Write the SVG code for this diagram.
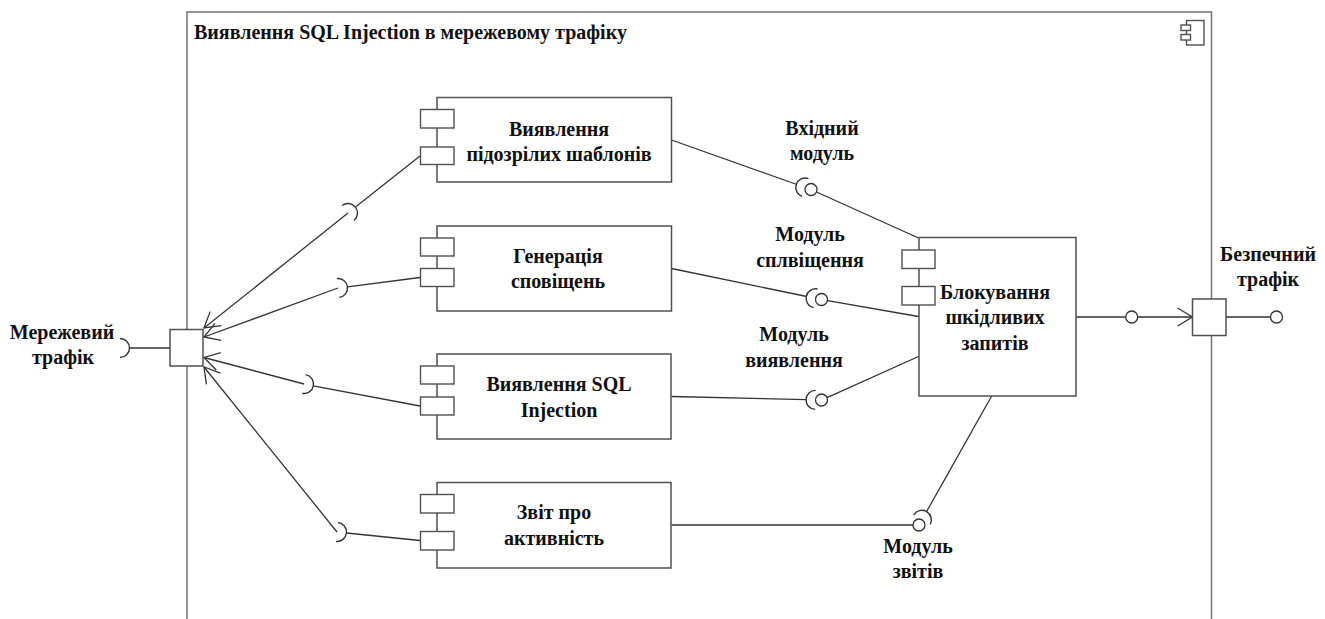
<svg xmlns="http://www.w3.org/2000/svg" width="1325" height="619" viewBox="0 0 1325 619">
  <style>
    .frame { fill: #ffffff; stroke: #7a7a7a; stroke-width: 1.6; }
    .box { fill: #ffffff; stroke: #505050; stroke-width: 1.5; }
    .tab { fill: #ffffff; stroke: #505050; stroke-width: 1.4; }
    .line { fill: none; stroke: #333333; stroke-width: 1.3; }
    .ball { fill: #ffffff; stroke: #333333; stroke-width: 1.3; }
    .lbl { font-family: "Liberation Serif", "Times New Roman", serif; font-weight: bold; font-size: 20px; fill: #111111; text-anchor: middle; }
    .title { font-family: "Liberation Serif", "Times New Roman", serif; font-weight: bold; font-size: 20px; fill: #111111; }
  </style>
  <defs>
    <marker id="open" markerUnits="userSpaceOnUse" markerWidth="20" markerHeight="20" viewBox="-16 -10 18 20" refX="0" refY="0" orient="auto">
      <path d="M-15,-9 L0,0 L-15,9" fill="none" stroke="#333333" stroke-width="1.3"/>
    </marker>
    <!-- half circle socket, bulging towards +x -->
    <path id="sock" d="M0,-9.5 A9.5,9.5 0 0 1 0,9.5" fill="none" stroke="#333333" stroke-width="1.4"/>
  </defs>
  <rect width="1325" height="619" fill="#ffffff"/>

  <!-- subsystem frame -->
  <g id="system">
    <rect class="frame" x="187" y="12" width="1024.5" height="640"/>
    <text class="title" x="194" y="39">Виявлення SQL Injection в мережевому трафіку</text>
    <g id="system-icon">
      <rect class="tab" x="1186.5" y="20.5" width="17.5" height="24.5" stroke-width="1.1"/>
      <rect class="tab" x="1181" y="25" width="9.5" height="5.5" stroke-width="1.1"/>
      <rect class="tab" x="1181" y="34.5" width="9.5" height="5.5" stroke-width="1.1"/>
    </g>
  </g>

  <!-- connectors -->
  <g id="connectors">
    <!-- inbound port socket -->
    <line class="line" x1="129" y1="348" x2="170" y2="348"/>
    <use href="#sock" transform="translate(120,348)"/>

    <!-- component required interfaces and dependencies to the port -->
    <line class="line" x1="420" y1="156" x2="355.8" y2="206.8"/>
    <use href="#sock" transform="translate(348,213) rotate(-38.4)"/>
    <line class="line" x1="348" y1="213" x2="204" y2="328" marker-end="url(#open)"/>

    <line class="line" x1="420" y1="277.5" x2="347.5" y2="286.8"/>
    <use href="#sock" transform="translate(338,288) rotate(-7.3)"/>
    <line class="line" x1="338" y1="288" x2="204" y2="337" marker-end="url(#open)"/>

    <line class="line" x1="420" y1="406" x2="313.3" y2="385.8"/>
    <use href="#sock" transform="translate(304,384) rotate(10.7)"/>
    <line class="line" x1="304" y1="384" x2="204" y2="357.5" marker-end="url(#open)"/>

    <line class="line" x1="420" y1="540.5" x2="346.5" y2="533"/>
    <use href="#sock" transform="translate(337,532) rotate(5.8)"/>
    <line class="line" x1="337" y1="532" x2="204" y2="367" marker-end="url(#open)"/>

    <!-- ball and socket: Вхідний модуль -->
    <line class="line" x1="671.5" y1="140" x2="796.9" y2="184.5"/>
    <use href="#sock" transform="translate(805.3,187.5) rotate(199.5)"/>
    <line class="line" x1="816.5" y1="192" x2="918.5" y2="238"/>
    <circle class="ball" cx="811" cy="189.5" r="6"/>

    <!-- ball and socket: Модуль сплвіщення -->
    <line class="line" x1="671.5" y1="268.5" x2="806.8" y2="296.5"/>
    <use href="#sock" transform="translate(815.6,298.3) rotate(191.7)"/>
    <line class="line" x1="827.5" y1="300.6" x2="918.5" y2="316.5"/>
    <circle class="ball" cx="821.5" cy="299.5" r="6"/>

    <!-- ball and socket: Модуль виявлення -->
    <line class="line" x1="671.5" y1="396.5" x2="806.5" y2="399.7"/>
    <use href="#sock" transform="translate(815.5,399.9) rotate(181.3)"/>
    <line class="line" x1="827" y1="397.6" x2="918.5" y2="356.5"/>
    <circle class="ball" cx="821.5" cy="400" r="6"/>

    <!-- ball and socket: Модуль звітів -->
    <line class="line" x1="671.5" y1="525" x2="913" y2="525"/>
    <line class="line" x1="991.7" y1="396" x2="926.4" y2="511.9"/>
    <use href="#sock" transform="translate(921.9,519.8) rotate(-60.6)"/>
    <circle class="ball" cx="919" cy="525" r="6"/>

    <!-- output to the secure traffic port -->
    <line class="line" x1="1076" y1="317" x2="1125.7" y2="317"/>
    <circle class="ball" cx="1131.7" cy="317" r="6"/>
    <line class="line" x1="1137.7" y1="317" x2="1192.5" y2="317" marker-end="url(#open)"/>
    <line class="line" x1="1226" y1="317" x2="1270.5" y2="317"/>
    <circle class="ball" cx="1276.5" cy="317" r="6"/>
  </g>

  <!-- ports -->
  <g id="port-in">
    <rect class="box" x="170" y="329.5" width="33" height="36.5"/>
    <text class="lbl" x="62" y="339">Мережевий</text>
    <text class="lbl" x="63" y="364">трафік</text>
  </g>
  <g id="port-out">
    <rect class="box" x="1192.5" y="299" width="33.5" height="36.5"/>
    <text class="lbl" x="1268" y="261">Безпечний</text>
    <text class="lbl" x="1268" y="286">трафік</text>
  </g>

  <!-- components -->
  <g id="patterns">
    <rect class="box" x="437" y="97.5" width="234.5" height="84.5"/>
    <rect class="tab" x="420.5" y="109.5" width="33.5" height="18.5"/>
    <rect class="tab" x="420.5" y="147" width="33.5" height="17.5"/>
    <text class="lbl" x="559" y="136">Виявлення</text>
    <text class="lbl" x="559" y="161">підозрілих шаблонів</text>
  </g>
  <g id="alerts">
    <rect class="box" x="437" y="226" width="234.5" height="85"/>
    <rect class="tab" x="420.5" y="238" width="33.5" height="18"/>
    <rect class="tab" x="420.5" y="268.5" width="33.5" height="18"/>
    <text class="lbl" x="558" y="263">Генерація</text>
    <text class="lbl" x="558" y="288">сповіщень</text>
  </g>
  <g id="sqli">
    <rect class="box" x="437" y="354" width="234" height="85"/>
    <rect class="tab" x="420.5" y="366" width="33.5" height="18"/>
    <rect class="tab" x="420.5" y="397" width="33.5" height="18"/>
    <text class="lbl" x="559" y="391">Виявлення SQL</text>
    <text class="lbl" x="559" y="417">Injection</text>
  </g>
  <g id="report">
    <rect class="box" x="437" y="482.5" width="234" height="85.5"/>
    <rect class="tab" x="420.5" y="494.5" width="33.5" height="18.5"/>
    <rect class="tab" x="420.5" y="531.5" width="33.5" height="18.5"/>
    <text class="lbl" x="554" y="519">Звіт про</text>
    <text class="lbl" x="554" y="545">активність</text>
  </g>
  <g id="blocking">
    <rect class="box" x="919" y="237.5" width="157" height="158.5"/>
    <rect class="tab" x="902" y="250" width="33" height="18.5"/>
    <rect class="tab" x="902" y="286.5" width="33" height="18.5"/>
    <text class="lbl" x="995" y="299">Блокування</text>
    <text class="lbl" x="995" y="324">шкідливих</text>
    <text class="lbl" x="995" y="350">запитів</text>
  </g>

  <!-- interface labels -->
  <g id="labels">
    <text class="lbl" x="822" y="135">Вхідний</text>
    <text class="lbl" x="822" y="160">модуль</text>
    <text class="lbl" x="810" y="241">Модуль</text>
    <text class="lbl" x="810" y="267">сплвіщення</text>
    <text class="lbl" x="794" y="341">Модуль</text>
    <text class="lbl" x="794" y="367">виявлення</text>
    <text class="lbl" x="918" y="553">Модуль</text>
    <text class="lbl" x="918" y="578">звітів</text>
  </g>
</svg>
